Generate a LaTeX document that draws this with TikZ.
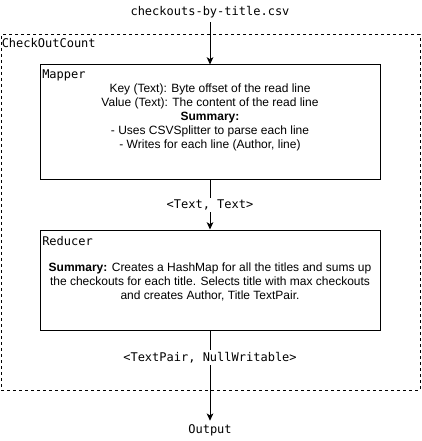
\documentclass[tikz,border=0pt]{standalone}
\usepackage{fontspec}
\setmainfont{Liberation Sans}
\setmonofont{DejaVu Sans Mono}
\usetikzlibrary{arrows.meta}
\begin{document}
\begin{tikzpicture}[x=0.75pt,y=-0.75pt,
  every node/.style={font=\fontsize{9}{10.5}\selectfont},
  mono/.style={font=\ttfamily\fontsize{9}{10.5}\selectfont, inner sep=0pt},
  box/.style={draw=black, line width=0.75pt, fill=white, inner sep=0pt},
  cont/.style={draw=black, line width=0.75pt, dash pattern=on 2.25pt off 2.25pt, inner sep=0pt},
  arr/.style={draw=black, line width=0.75pt, -{Stealth[length=5.5pt,width=5pt,inset=1.5pt]}},
  elabel/.style={mono, fill=white, inner sep=1.5pt}
]
\useasboundingbox (0,0) rectangle (421,441);
% container
\node[cont, minimum width=314.25pt, minimum height=266.25pt] (container) at (210.5,212.5) {};
\node[mono, anchor=north west] (contlabel) at (1.5,38.5) {CheckOutCount};
% source
\node[mono, minimum height=15pt] (src) at (210,12) {checkouts-by-title.csv};
% mapper
\node[box, minimum width=255pt, minimum height=86.25pt] (mapper) at (210,122.5) {};
\node[mono, anchor=north west] (maplabel) at (42,69) {Mapper};
\node[align=center, inner sep=0pt] (maptext) at (210,117.5) {Key (Text): Byte offset of the read line\\Value (Text): The content of the read line\\\textbf{Summary:}\\- Uses CSVSplitter to parse each line\\- Writes for each line (Author, line)};
% reducer
\node[box, minimum width=255pt, minimum height=75pt] (reducer) at (210,280) {};
\node[mono, anchor=north west] (redlabel) at (42,236) {Reducer};
\node[align=center, inner sep=0pt] (redtext) at (210,281.5) {\textbf{Summary:} Creates a HashMap for all the titles and sums up\\the checkouts for each title. Selects title with max checkouts\\and creates Author, Title TextPair.};
% output
\node[mono, minimum height=13.5pt] (out) at (210,430) {Output};
% connectors
\draw[arr] (src.south) -- (mapper.north);
\draw[arr] (mapper.south) -- node[elabel, pos=0.5] (l1) {<Text, Text>} (reducer.north);
\draw[arr] (reducer.south) -- node[elabel, pos=0.3] (l2) {<TextPair, NullWritable>} (out.north);
\end{tikzpicture}
\end{document}
